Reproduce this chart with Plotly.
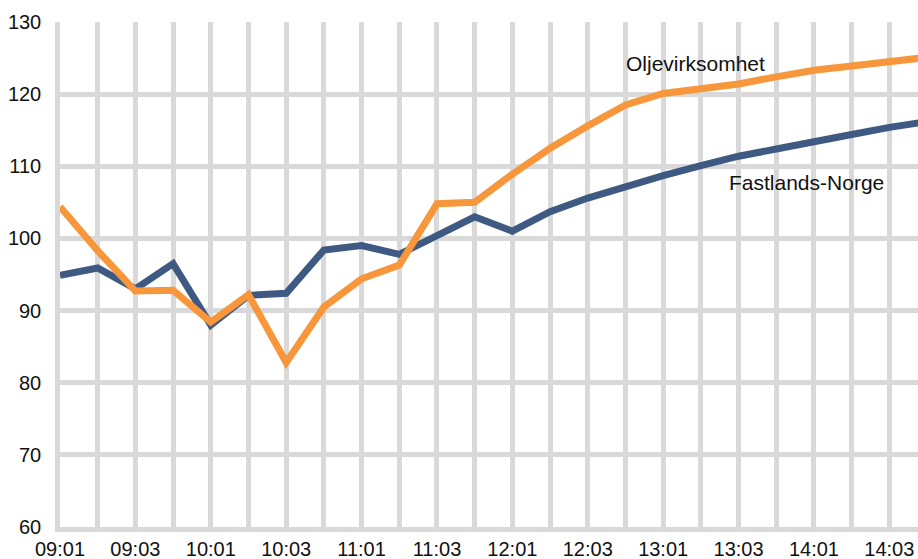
import plotly.graph_objects as go

quarters = [f"{y:02d}:{q:02d}" for y in range(9, 15) for q in range(1, 5)]
tick_labels = ["09:01", "09:03", "10:01", "10:03", "11:01", "11:03",
               "12:01", "12:03", "13:01", "13:03", "14:01", "14:03"]

fastlands_norge = [94.9, 95.9, 93.0, 96.5, 88.0, 92.1, 92.4, 98.4, 99.0, 97.8,
                   100.4, 103.0, 101.0, 103.7, 105.6, 107.2, 108.7, 110.1,
                   111.4, 112.4, 113.3, 114.4, 115.4, 116.2]
oljevirksomhet = [104.4, 98.3, 92.7, 92.8, 88.4, 92.2, 82.8, 90.5, 94.4, 96.3,
                  104.8, 105.0, 108.9, 112.5, 115.6, 118.5, 120.1, 120.7,
                  121.4, 122.4, 123.3, 123.9, 124.5, 125.1]

y_ticks = [60, 70, 80, 90, 100, 110, 120, 130]

BLUE = "#3F5A82"
ORANGE = "#F7963B"
GRID = "#D9D9D9"
FONT = "Arial, Liberation Sans, sans-serif"

fig = go.Figure()
fig.add_trace(go.Scatter(x=quarters, y=fastlands_norge, mode="lines",
                         line=dict(color=BLUE, width=7), name="Fastlands-Norge"))
fig.add_trace(go.Scatter(x=quarters, y=oljevirksomhet, mode="lines",
                         line=dict(color=ORANGE, width=7), name="Oljevirksomhet"))

ticktext = [q if q in tick_labels else "" for q in quarters]

fig.update_layout(
    width=918, height=559,
    margin=dict(l=60, r=0, t=22, b=32, pad=0),
    paper_bgcolor="white", plot_bgcolor="white",
    showlegend=False,
    font=dict(family=FONT, size=20, color="#111111"),
    xaxis=dict(type="category", categoryorder="array", categoryarray=quarters,
               range=[0, 22.76], tickmode="array", tickvals=quarters, ticktext=ticktext,
               showgrid=True, gridcolor=GRID, gridwidth=4.5,
               showline=True, linecolor=GRID, linewidth=4.5,
               ticks="", ticklabelstandoff=0, zeroline=False, fixedrange=True,
               automargin=False),
    yaxis=dict(range=[60, 130], tickvals=y_ticks, ticktext=[str(v) for v in y_ticks],
               showgrid=True, gridcolor=GRID, gridwidth=4.5,
               showline=True, linecolor=GRID, linewidth=4.5,
               ticks="", ticklabelstandoff=10, zeroline=False, fixedrange=True,
               automargin=False),
    annotations=[
        dict(x=16.87, y=124.2, xref="x", yref="y", text="Oljevirksomhet",
             showarrow=False, font=dict(family=FONT, size=21, color="#111111")),
        dict(x=19.79, y=107.7, xref="x", yref="y", text="Fastlands-Norge",
             showarrow=False, font=dict(family=FONT, size=21, color="#111111")),
    ],
)

fig.write_html("out.html", config={"displayModeBar": False},
               post_script="document.body.style.margin='0';document.body.style.overflow='hidden';")
